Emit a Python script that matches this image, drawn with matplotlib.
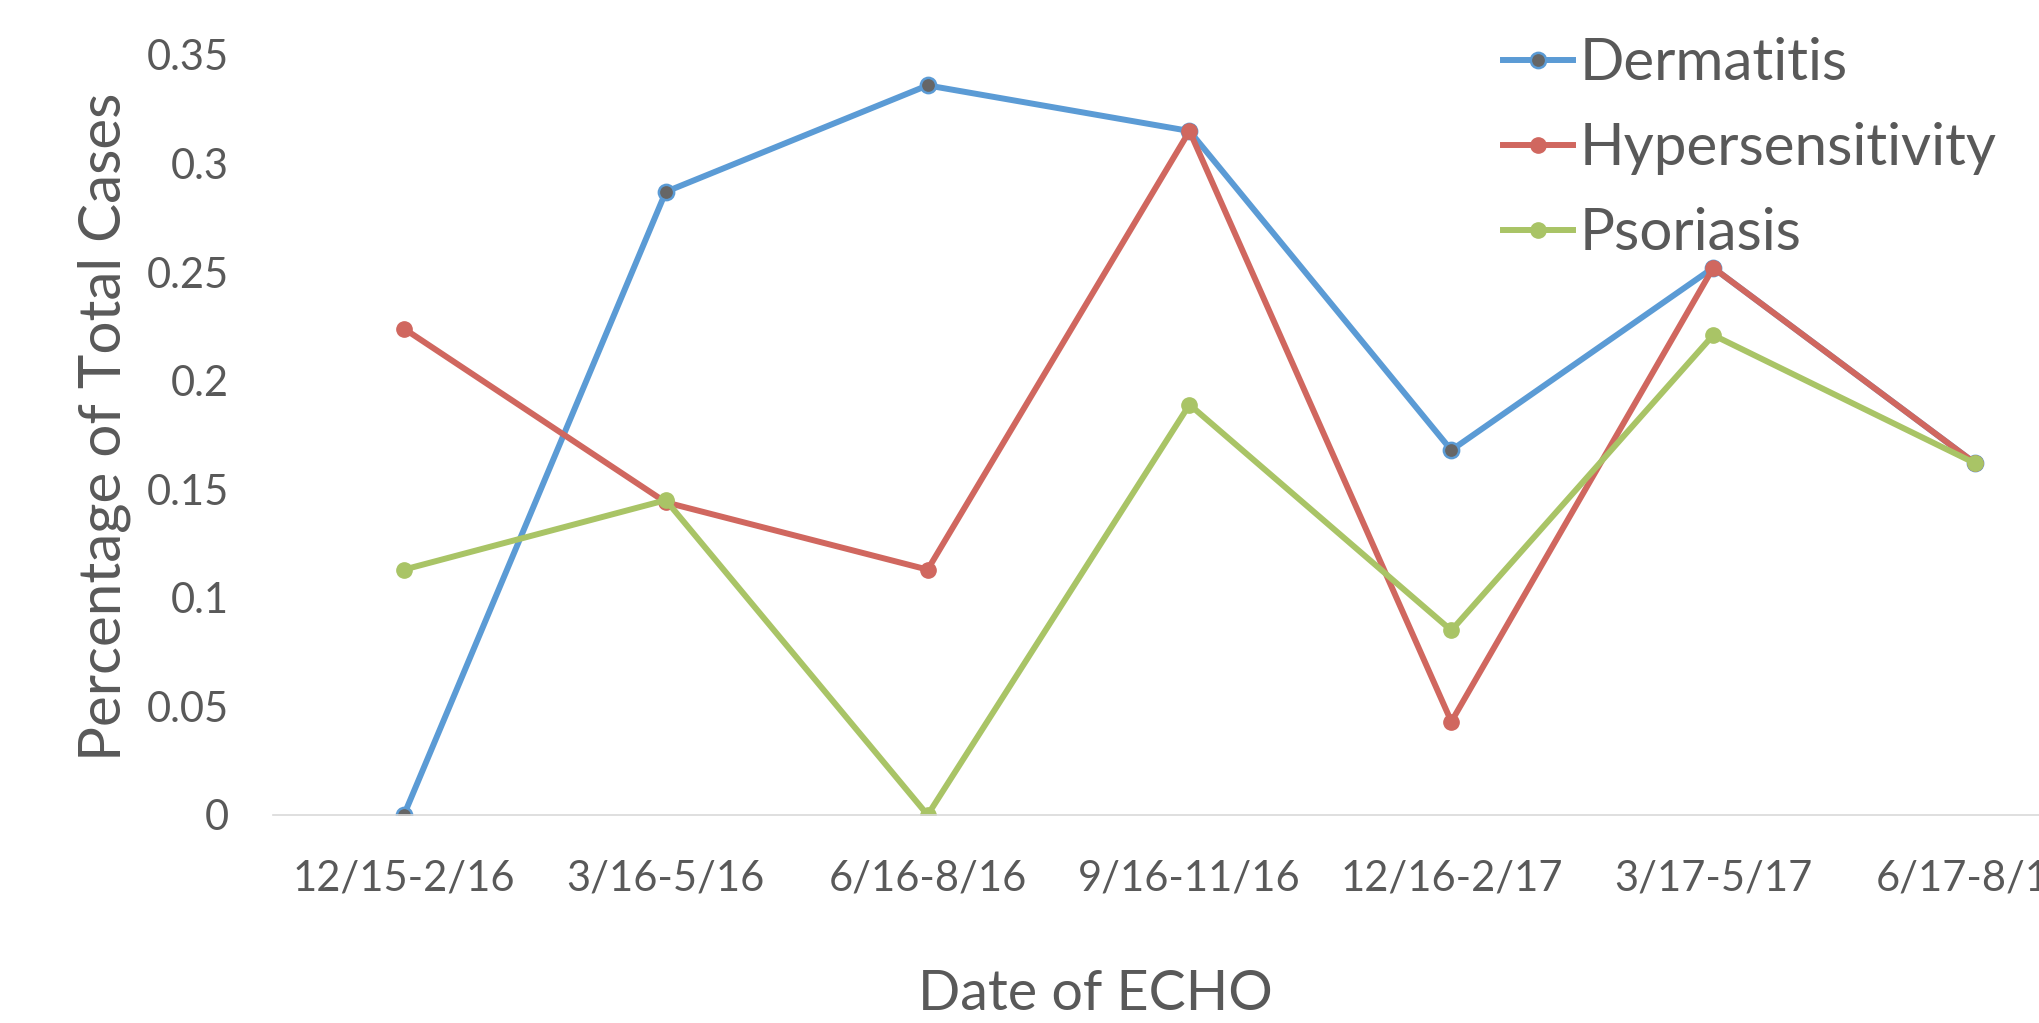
import matplotlib.pyplot as plt

periods = ["12/15-2/16", "3/16-5/16", "6/16-8/16", "9/16-11/16",
           "12/16-2/17", "3/17-5/17", "6/17-8/17"]
dermatitis = [0.0, 0.287, 0.336, 0.315, 0.168, 0.252, 0.162]
hypersensitivity = [0.224, 0.144, 0.113, 0.315, 0.043, 0.252, 0.162]
psoriasis = [0.113, 0.145, 0.0, 0.189, 0.085, 0.221, 0.162]

txt = "#595959"
plt.rcParams['font.family'] = ['Lato', 'DejaVu Sans']

fig = plt.figure(figsize=(20.4, 10.23), dpi=100)
# axes runs past the right edge, the original picture is cut there
ax = fig.add_axes([273 / 2040, 1 - 815 / 1023, (2106 - 273) / 2040, (815 - 55) / 1023])

x = range(len(periods))
ax.plot(x, dermatitis, color="#5B9BD5", lw=4.3, marker="o", ms=11,
        mfc="#666666", mec="#5B9BD5", mew=1.8, label="Dermatitis")
ax.plot(x, hypersensitivity, color="#D0675F", lw=4.3, marker="o", ms=11,
        label="Hypersensitivity")
ax.plot(x, psoriasis, color="#A9C466", lw=4.3, marker="o", ms=11,
        label="Psoriasis")

ax.set_xlim(-0.5, 6.5)
ax.set_ylim(0, 0.35)
ax.set_yticks([0, 0.05, 0.1, 0.15, 0.2, 0.25, 0.3, 0.35])
ax.set_yticklabels(["0", "0.05", "0.1", "0.15", "0.2", "0.25", "0.3", "0.35"])
ax.set_xticks(list(x))
ax.set_xticklabels(periods)
ax.tick_params(length=0, labelsize=30, colors=txt)
ax.tick_params(axis="y", pad=32)
ax.tick_params(axis="x", pad=32)
for s in ["top", "right", "left"]:
    ax.spines[s].set_visible(False)
ax.spines["bottom"].set_color("#D9D9D9")
ax.spines["bottom"].set_linewidth(1.2)

fig.text(104 / 2040, 1 - 427 / 1023, "Percentage of Total Cases", rotation=90,
         ha="center", va="center", fontsize=42, color=txt)
fig.text(1095 / 2040, 1 - 995 / 1023, "Date of ECHO",
         ha="center", va="center", fontsize=40, color=txt)

leg = fig.legend(loc="upper left", bbox_to_anchor=(1480 / 2040, 1 - 14 / 1023),
                 frameon=False, fontsize=42, handlelength=1.2, handletextpad=0.1,
                 labelspacing=0.55, borderaxespad=0)
for t in leg.get_texts():
    t.set_color(txt)

fig.savefig("out.png", dpi=100)
